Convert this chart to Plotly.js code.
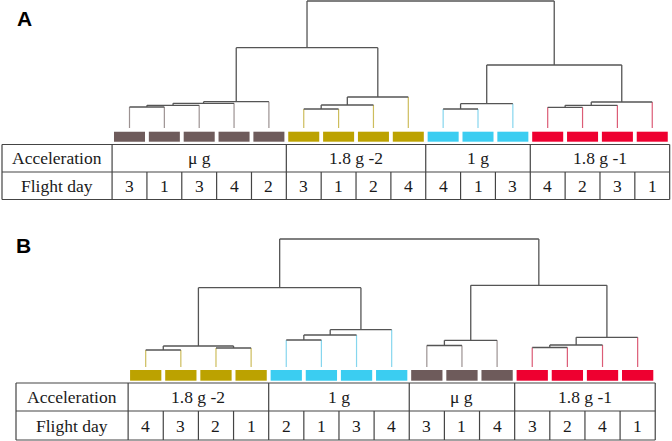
<!DOCTYPE html>
<html><head><meta charset="utf-8">
<script src="https://cdn.plot.ly/plotly-3.0.1.min.js"></script>
<style>html,body{margin:0;padding:0;background:#fff}#chart{width:672px;height:441px}</style>
</head><body><div id="chart"></div>
<script>
// ---------------- Data: panel A ----------------
const groupNamesA = ['μ g', '1.8 g -2', '1 g', '1.8 g -1'];
const groupSizesA = [5, 4, 3, 4];
const flightDayA = [3, 1, 3, 4, 2, 3, 1, 2, 4, 4, 1, 3, 4, 2, 3, 1];
// merges: leaves 0..15, merge k becomes node 16+k
const mergeLeftA   = [0, 16, 17, 18, 5, 20, 21, 9, 23, 12, 25, 26, 19, 24, 28];
const mergeRightA  = [1, 2, 3, 4, 6, 7, 8, 10, 11, 13, 14, 15, 22, 27, 29];
const mergeHeightA = [21, 22.7, 24.7, 26.3, 19, 23, 31, 19, 24.3, 20.7, 22.7, 26, 80.3, 63, 127];

// ---------------- Data: panel B ----------------
const groupNamesB = ['1.8 g -2', '1 g', 'μ g', '1.8 g -1'];
const groupSizesB = [4, 4, 3, 4];
const flightDayB = [4, 3, 2, 1, 2, 1, 3, 4, 3, 1, 4, 3, 2, 4, 1];
// merges: leaves 0..14, merge k becomes node 15+k
const mergeLeftB   = [0, 2, 15, 4, 18, 19, 8, 21, 11, 23, 24, 17, 22, 26];
const mergeRightB  = [1, 3, 16, 5, 6, 7, 9, 10, 12, 13, 14, 20, 25, 27];
const mergeHeightB = [17, 19, 21, 27, 32, 37.3, 21.5, 26.7, 19.5, 22, 29.7, 79.3, 81.7, 128];

// ---------------- Styles ----------------
const boxColor  = {'μ g': '#6e5b5b', '1.8 g -2': '#bca200', '1 g': '#3bcdf1', '1.8 g -1': '#ee0030'};
const stemColor = {'μ g': '#9c9292', '1.8 g -2': '#cdbd5c', '1 g': '#86d6ee', '1.8 g -1': '#dc5c76'};
const linkColor = '#555555';
const gridColor = '#444444';
const W = 672, H = 441;
const serif = 'Liberation Serif, Times New Roman, serif';
const py = p => 1 - p / H;

const panels = [
  {xa: 'x', ya: 'y', names: groupNamesA, sizes: groupSizesA, days: flightDayA,
   mL: mergeLeftA, mR: mergeRightA, mH: mergeHeightA,
   leaf0: 129.5, pitch: 34.85, base: 128, top: 0, hMax: 128,
   boxTop: 131.7, boxBot: 141.7, tTop: 144.5, tMid: 172, tBot: 199.5, tLeft: 2,
   letter: 'A', letterX: 24, letterY: 19},
  {xa: 'x2', ya: 'y2', names: groupNamesB, sizes: groupSizesB, days: flightDayB,
   mL: mergeLeftB, mR: mergeRightB, mH: mergeHeightB,
   leaf0: 145.7, pitch: 35.14, base: 367, top: 237, hMax: 130,
   boxTop: 370, boxBot: 380.7, tTop: 383, tMid: 411, tBot: 440, tLeft: 16,
   letter: 'B', letterX: 23, letterY: 246}
];

const traces = [], shapes = [], annotations = [];
const layout = {
  width: W, height: H, margin: {l: 0, r: 0, t: 0, b: 0},
  paper_bgcolor: '#fff', plot_bgcolor: 'rgba(0,0,0,0)', showlegend: false,
  shapes: shapes, annotations: annotations
};

panels.forEach((P, pi) => {
  const sfx = pi === 0 ? '' : '2';
  const n = P.days.length;
  layout['xaxis' + sfx] = {domain: [0, 1], range: [(0 - P.leaf0) / P.pitch, (W - P.leaf0) / P.pitch],
    visible: false, fixedrange: true, anchor: 'y' + sfx};
  layout['yaxis' + sfx] = {domain: [py(P.base), py(P.top)], range: [0, P.hMax * (P.base - P.top) / (P.base - P.top)],
    visible: false, fixedrange: true, anchor: 'x' + sfx};
  layout['yaxis' + sfx].range = [0, P.base - P.top];

  // leaf groups
  const leafGroup = [];
  P.sizes.forEach((s, g) => { for (let i = 0; i < s; i++) leafGroup.push(g); });

  // node positions
  const pos = [], hgt = [];
  for (let i = 0; i < n; i++) { pos.push(i); hgt.push(0); }
  P.mL.forEach((l, k) => { const r = P.mR[k]; pos.push((pos[l] + pos[r]) / 2); hgt.push(P.mH[k]); });

  const dx = [], dy = [];
  const stems = P.names.map(() => ({x: [], y: []}));
  P.mL.forEach((l, k) => {
    const r = P.mR[k], h = P.mH[k];
    dx.push(pos[l], pos[r], null); dy.push(h, h, null);
    [l, r].forEach(c => {
      if (c < n) { const s = stems[leafGroup[c]]; s.x.push(pos[c], pos[c], null); s.y.push(0, h, null); }
      else { dx.push(pos[c], pos[c], null); dy.push(hgt[c], h, null); }
    });
  });
  stems.forEach((s, g) => traces.push({type: 'scatter', mode: 'lines', x: s.x, y: s.y, xaxis: 'x' + sfx, yaxis: 'y' + sfx,
    line: {color: stemColor[P.names[g]], width: 1.2}, hoverinfo: 'skip', cliponaxis: false}));
  traces.push({type: 'scatter', mode: 'lines', x: dx, y: dy, xaxis: 'x' + sfx, yaxis: 'y' + sfx,
    line: {color: linkColor, width: 1.3}, hoverinfo: 'skip', cliponaxis: false});

  const xr = 'x' + sfx;
  // leaf boxes
  for (let i = 0; i < n; i++) {
    shapes.push({type: 'rect', xref: xr, yref: 'paper', x0: i - 0.445, x1: i + 0.445,
      y0: py(P.boxBot), y1: py(P.boxTop), fillcolor: boxColor[P.names[leafGroup[i]]], line: {width: 0}});
  }
  // table
  const xL = (P.tLeft - P.leaf0) / P.pitch, xR = n - 0.5;
  const ln = (x0, y0, x1, y1) => shapes.push({type: 'line', xref: xr, yref: 'paper', x0, x1, y0: py(y0), y1: py(y1),
    line: {color: gridColor, width: 1.2}});
  [P.tTop, P.tMid, P.tBot].forEach(y => ln(xL, y, xR, y));
  ln(xL, P.tTop, xL, P.tBot); ln(-0.5, P.tTop, -0.5, P.tBot); ln(xR, P.tTop, xR, P.tBot);
  let start = 0;
  P.sizes.forEach((s, g) => {
    const end = start + s;
    if (end < n) ln(end - 0.5, P.tTop, end - 0.5, P.tBot);
    for (let i = start + 1; i < end; i++) ln(i - 0.5, P.tMid, i - 0.5, P.tBot);
    annotations.push({xref: xr, yref: 'paper', x: (start + end - 1) / 2, y: py((P.tTop + P.tMid) / 2),
      text: P.names[g], showarrow: false, font: {family: serif, size: 17.5, color: '#1a1a1a'}, xanchor: 'center', yanchor: 'middle'});
    start = end;
  });
  const labX = (xL + (-0.5)) / 2;
  annotations.push({xref: xr, yref: 'paper', x: labX, y: py((P.tTop + P.tMid) / 2), text: 'Acceleration', showarrow: false,
    font: {family: serif, size: 17.5, color: '#1a1a1a'}, xanchor: 'center', yanchor: 'middle'});
  annotations.push({xref: xr, yref: 'paper', x: labX, y: py((P.tMid + P.tBot) / 2), text: 'Flight day', showarrow: false,
    font: {family: serif, size: 17.5, color: '#1a1a1a'}, xanchor: 'center', yanchor: 'middle'});
  P.days.forEach((d, i) => annotations.push({xref: xr, yref: 'paper', x: i, y: py((P.tMid + P.tBot) / 2), text: String(d),
    showarrow: false, font: {family: serif, size: 17.5, color: '#1a1a1a'}, xanchor: 'center', yanchor: 'middle'}));
  // panel letter
  annotations.push({xref: 'paper', yref: 'paper', x: P.letterX / W, y: py(P.letterY), text: '<b>' + P.letter + '</b>',
    showarrow: false, font: {family: 'Liberation Sans, Arial, sans-serif', size: 21, color: '#000'}, xanchor: 'center', yanchor: 'middle'});
});

Plotly.newPlot('chart', traces, layout, {staticPlot: true, displayModeBar: false});
</script></body></html>
